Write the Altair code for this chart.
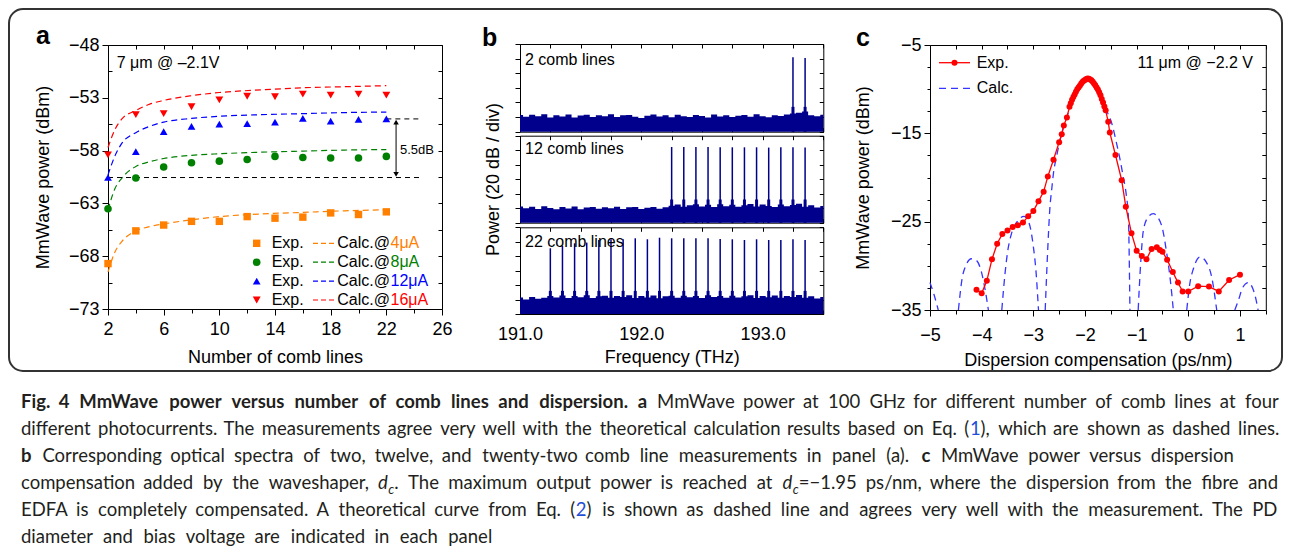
import altair as alt
import pandas as pd

W, H = 1275, 544
FONT = "Liberation Sans"
CAP_FONT = "Lato"
NAVY = "#00008c"

# ---------------- panel a : mmWave power vs number of comb lines ----------------
comb_counts = [2, 4, 6, 8, 10, 12, 14, 16, 18, 20, 22]
exp_4uA = [-68.7, -65.6, -65.05, -64.7, -64.7, -64.25, -64.4, -64.3, -63.9, -64.05, -63.8]
exp_8uA = [-63.5, -60.6, -59.55, -59.15, -59.0, -58.85, -58.55, -58.65, -58.7, -58.7, -58.55]
exp_12uA = [-60.55, -58.1, -56.2, -55.7, -55.5, -55.45, -55.3, -54.95, -55.2, -55.05, -55.0]
exp_16uA = [-58.4, -54.6, -54.5, -53.85, -53.2, -52.85, -52.9, -52.65, -52.75, -52.65, -52.75]

calc_counts = [2, 2.5, 3, 4, 5, 6, 8, 10, 13, 16, 19, 22]
calc_4uA = [-69.5, -67.6, -66.6, -65.6, -65.2, -64.95, -64.55, -64.25, -64.0, -63.85, -63.7, -63.6]
calc_8uA = [-63.6, -61.6, -60.6, -59.5, -59.05, -58.75, -58.45, -58.3, -58.15, -58.05, -57.95, -57.9]
calc_12uA = [-60.3, -58.5, -57.3, -56.3, -55.7, -55.3, -54.95, -54.75, -54.6, -54.5, -54.4, -54.35]
calc_16uA = [-57.7, -56.0, -55.0, -54.2, -53.6, -53.25, -52.8, -52.5, -52.25, -52.05, -51.95, -51.85]
currents = ["4μA", "8μA", "12μA", "16μA"]

ref_start = [2, 22]
ref_level = [-60.55, -55.0]
ref_end = 24.4
arrow_x = 22.7
arrow_top, arrow_bottom = -55.3, -60.25

# ---------------- panel b : optical spectra ----------------
floor_freqs = [round(191.0 + 0.05 * i, 2) for i in range(51)]
floor_2 = [1.15, 1.02, 1.16, 1.06, 1.20, 0.98, 1.12, 1.04, 1.17, 0.97, 1.10, 1.16, 1.01, 1.13, 1.05, 1.19, 1.00,
           1.12, 1.15, 1.03, 0.94, 1.09, 1.18, 1.04, 1.13, 0.99, 1.16, 1.06, 1.01, 1.15, 1.08, 0.98, 1.17, 1.04,
           1.12, 1.00, 1.09, 1.15, 1.03, 1.19, 1.06, 0.99, 1.13, 1.08, 1.18, 1.25, 1.30, 1.38, 1.12, 1.06, 1.16]
floor_12 = [1.12, 1.00, 1.10, 0.95, 1.14, 1.02, 0.93, 1.08, 0.98, 1.11, 0.92, 1.05, 1.09, 0.96, 1.07, 0.99, 1.10,
            0.94, 1.06, 1.08, 0.95, 1.03, 1.09, 0.97, 1.06, 1.17, 1.25, 1.10, 1.21, 1.28, 1.12, 1.23, 1.08, 1.27,
            1.14, 1.24, 1.10, 1.21, 1.29, 1.11, 1.25, 1.16, 1.08, 1.26, 1.13, 1.22, 1.31, 1.10, 1.20, 1.05, 1.16]
floor_22 = [1.14, 1.01, 1.17, 1.06, 1.12, 1.25, 1.14, 1.28, 1.11, 1.24, 1.16, 1.29, 1.10, 1.23, 1.27, 1.13, 1.25,
            1.17, 1.30, 1.11, 1.24, 1.15, 1.28, 1.09, 1.22, 1.26, 1.13, 1.27, 1.16, 1.25, 1.10, 1.29, 1.17, 1.24,
            1.12, 1.27, 1.15, 1.22, 1.30, 1.11, 1.25, 1.16, 1.28, 1.13, 1.24, 1.17, 1.31, 1.12, 1.22, 1.07, 1.18]
lines_2 = [193.25, 193.35]
peaks_2 = [5.1, 5.05]
lines_12 = [192.25, 192.35, 192.45, 192.55, 192.65, 192.75, 192.85, 192.95, 193.05, 193.15, 193.25, 193.35]
peaks_12 = [5.22, 5.22, 5.22, 5.22, 5.2, 5.2, 5.2, 5.2, 5.18, 5.2, 5.2, 5.18]
lines_22 = [191.25, 191.35, 191.45, 191.55, 191.65, 191.75, 191.85, 191.95, 192.05, 192.15, 192.25,
            192.35, 192.45, 192.55, 192.65, 192.75, 192.85, 192.95, 193.05, 193.15, 193.25, 193.35]
peaks_22 = [4.55, 4.71, 4.89, 4.94, 5.12, 5.17, 5.17, 5.24, 5.17, 5.28, 5.24, 5.24, 5.24, 5.24, 5.19, 5.17,
            5.12, 5.17, 5.12, 5.12, 5.17, 5.12]
pedestal = [1.7, 1.6, 1.6]
spectrum_labels = ["2 comb lines", "12 comb lines", "22 comb lines"]

# ---------------- panel c : power vs dispersion compensation ----------------
disp_exp = [-4.1, -4.0, -3.9, -3.8, -3.7, -3.6, -3.5, -3.4, -3.3, -3.2, -3.1, -3.0, -2.9, -2.8, -2.72, -2.61,
            -2.5, -2.45, -2.41, -2.35,
            -2.3, -2.275, -2.25, -2.225, -2.2, -2.175, -2.15, -2.125, -2.1, -2.075, -2.05, -2.025, -2.0,
            -1.975, -1.95, -1.925, -1.9, -1.875, -1.85, -1.825, -1.8, -1.775, -1.75, -1.725, -1.7, -1.675,
            -1.65, -1.625, -1.6,
            -1.55, -1.52, -1.41, -1.29, -1.21, -1.1, -1.0, -0.9, -0.81, -0.71, -0.61, -0.55, -0.5, -0.41,
            -0.3, -0.2, -0.11, 0.0, 0.19, 0.4, 0.59, 0.79, 1.0]
power_exp = [-32.7, -33.1, -31.7, -29.25, -27.5, -26.4, -26.0, -25.6, -25.4, -25.1, -24.4, -23.8, -22.7, -21.6,
             -19.9, -18.0, -16.0, -15.1, -14.1, -13.2,
             -12.0, -11.6, -11.2, -10.9, -10.6, -10.3, -10.0, -9.8, -9.6, -9.4, -9.2, -9.05, -8.95,
             -8.85, -8.8, -8.82, -8.9, -9.0, -9.15, -9.35, -9.55, -9.8, -10.05, -10.35, -10.7, -11.1,
             -11.5, -11.95, -12.4,
             -13.7, -14.9, -17.45, -20.3, -23.3, -26.3, -28.3, -28.9, -29.25, -28.1, -27.9, -28.2, -28.4,
             -29.3, -30.7, -31.9, -32.9, -32.9, -32.3, -32.35, -32.9, -31.6, -31.0]
calc_lobes = [
    [(-5.0, -31.9), (-4.92, -33.3), (-4.84, -35.0)],
    [(-4.45, -35.0), (-4.38, -31.5), (-4.3, -29.9), (-4.2, -29.2), (-4.1, -29.4), (-4.0, -30.8), (-3.93, -32.8),
     (-3.87, -35.0)],
    [(-3.61, -35.0), (-3.55, -31.0), (-3.5, -28.5), (-3.42, -26.3), (-3.3, -24.9), (-3.18, -24.4), (-3.08, -25.2),
     (-3.0, -27.8), (-2.95, -30.5), (-2.9, -35.0)],
    [(-2.77, -35.0), (-2.72, -28.0), (-2.68, -23.5), (-2.645, -21.4), (-2.61, -19.5), (-2.55, -17.6), (-2.45, -15.0),
     (-2.35, -13.1), (-2.23, -11.2), (-2.1, -9.7), (-1.95, -8.75), (-1.8, -9.3), (-1.68, -10.6), (-1.58, -12.4),
     (-1.48, -13.9), (-1.39, -16.1), (-1.32, -18.0), (-1.26, -19.9), (-1.2, -22.0), (-1.16, -24.5), (-1.13, -35.0)],
    [(-0.97, -35.0), (-0.92, -29.5), (-0.87, -26.0), (-0.78, -24.5), (-0.68, -24.1), (-0.58, -24.6), (-0.5, -25.8),
     (-0.42, -28.5), (-0.35, -31.5), (-0.29, -35.0)],
    [(-0.03, -35.0), (0.03, -32.0), (0.1, -30.3), (0.23, -29.0), (0.35, -29.6), (0.45, -31.2), (0.55, -35.0)],
    [(0.9, -35.0), (0.97, -33.9), (1.05, -32.5), (1.16, -31.9), (1.25, -32.6), (1.31, -33.8), (1.35, -35.0)],
]

# ---------------- caption ----------------
caption_lines = [
    [("Fig. 4 MmWave power versus number of comb lines and dispersion. a", "b"),
     (" MmWave power at 100 GHz for different number of comb lines at four", "r")],
    [("different photocurrents. The measurements agree very well with the theoretical calculation results "
      "based on Eq. (", "r"), ("1", "blue"), ("), which are shown as dashed lines.", "r")],
    [("b", "b"), (" Corresponding optical spectra of two, twelve, and twenty-two comb line measurements in "
                  "panel (a). ", "r"), ("c", "b"), (" MmWave power versus dispersion", "r")],
    [("compensation added by the waveshaper, ", "r"), ("d", "i"), ("c", "sub"),
     (". The maximum output power is reached at ", "r"), ("d", "i"), ("c", "sub"),
     ("=−1.95 ps/nm, where the dispersion from the fibre and", "r")],
    [("EDFA is completely compensated. A theoretical curve from Eq. (", "r"), ("2", "blue"),
     (") is shown as dashed line and agrees very well with the measurement. The PD", "r")],
    [("diameter and bias voltage are indicated in each panel", "r")],
]


# ======================================================================
def sc(d, r):
    return alt.Scale(domain=d, range=r, nice=False, zero=False)


AXK = dict(grid=False, domainColor="black", tickColor="black", labelColor="black", labelFont=FONT,
           labelFontSize=18, titleFont=FONT, titleFontSize=18, titleFontWeight="normal", titleColor="black",
           domainWidth=1, tickWidth=1, labelFlush=False, labelOverlap=False)


def ax(**kw):
    d = dict(AXK)
    d.update(kw)
    return alt.Axis(**d)


def guide(xd, xr, yd, yr, xaxis=None, yaxis=None):
    df = pd.DataFrame({"gx": [xd[0]], "gy": [yd[0]]})
    return alt.Chart(df).mark_point(opacity=0).encode(
        x=alt.X("gx:Q", scale=sc(xd, xr), axis=xaxis),
        y=alt.Y("gy:Q", scale=sc(yd, yr), axis=yaxis),
    )


one = pd.DataFrame({"k": [0]})
layers = []

# ---------------- panel a ----------------
AXD, AXR = [2, 26], [100, 434]
AYD, AYR = [-73, -48], [301, 37]
ax_x = lambda f: alt.X(f, scale=sc(AXD, AXR), axis=None)
ax_y = lambda f: alt.Y(f, scale=sc(AYD, AYR), axis=None)

layers.append(guide(AXD, AXR, AYD, AYR,
                    ax(orient="bottom", offset=301 - H, values=[2, 6, 10, 14, 18, 22, 26], tickSize=6,
                       labelPadding=5, title="Number of comb lines", titlePadding=10),
                    ax(orient="left", offset=-100, values=[-73, -68, -63, -58, -53, -48], tickSize=6,
                       labelPadding=3, title="MmWave power (dBm)", titlePadding=16)))
layers.append(guide(AXD, AXR, AYD, AYR,
                    ax(orient="bottom", offset=301 - H, values=[4, 8, 12, 16, 20, 24], tickSize=4,
                       labels=False, domain=False, title=None),
                    ax(orient="right", offset=100 - W, values=[-70.5, -65.5, -60.5, -55.5, -50.5], tickSize=4,
                       labels=False, domain=False, title=None)))
layers.append(guide(AXD, AXR, AYD, AYR,
                    ax(orient="bottom", offset=37 - H, values=list(range(2, 27, 2)), tickSize=4,
                       labels=False, title=None),
                    ax(orient="left", offset=-434, values=[-73 + 2.5 * i for i in range(11)], tickSize=4,
                       labels=False, title=None)))

cur_color = alt.Scale(domain=currents, range=["#ff8000", "#008000", "#0000ff", "#ff0000"])
cur_shape = alt.Scale(domain=currents, range=["square", "circle", "triangle-up", "triangle-down"])
cur_size = alt.Scale(domain=currents, range=[55, 62, 85, 85])

rows = []
for cur, vals in zip(currents, [exp_4uA, exp_8uA, exp_12uA, exp_16uA]):
    for n, v in zip(comb_counts, vals):
        rows.append({"n": n, "p": v, "cur": cur})
df_exp = pd.DataFrame(rows)
rows = []
for cur, vals in zip(currents, [calc_4uA, calc_8uA, calc_12uA, calc_16uA]):
    for n, v in zip(calc_counts, vals):
        rows.append({"n": n, "p": v, "cur": cur})
df_calc = pd.DataFrame(rows)

layers.append(alt.Chart(df_calc).mark_line(strokeDash=[6, 4], strokeWidth=1.2, interpolate="monotone").encode(
    x=ax_x("n:Q"), y=ax_y("p:Q"), color=alt.Color("cur:N", scale=cur_color, legend=None), detail="cur:N"))

df_ref = pd.DataFrame({"x": ref_start, "x2": [ref_end] * len(ref_start), "y": ref_level})
layers.append(alt.Chart(df_ref).mark_rule(color="black", strokeDash=[5, 4], strokeWidth=1).encode(
    x=ax_x("x:Q"), x2="x2:Q", y=ax_y("y:Q")))

layers.append(alt.Chart(df_exp).mark_point(filled=True, opacity=1).encode(
    x=ax_x("n:Q"), y=ax_y("p:Q"),
    color=alt.Color("cur:N", scale=cur_color, legend=None),
    shape=alt.Shape("cur:N", scale=cur_shape, legend=None),
    size=alt.Size("cur:N", scale=cur_size, legend=None)))

df_arrow = pd.DataFrame({"x": [arrow_x], "y1": [arrow_top], "y2": [arrow_bottom]})
layers.append(alt.Chart(df_arrow).mark_rule(color="black", strokeWidth=1).encode(
    x=ax_x("x:Q"), y=ax_y("y1:Q"), y2="y2:Q"))
layers.append(alt.Chart(df_arrow).mark_point(shape="triangle-up", filled=True, color="black", size=30,
                                             opacity=1).encode(x=ax_x("x:Q"), y=ax_y("y1:Q")))
layers.append(alt.Chart(df_arrow).mark_point(shape="triangle-down", filled=True, color="black", size=30,
                                             opacity=1).encode(x=ax_x("x:Q"), y=ax_y("y2:Q")))
layers.append(alt.Chart(one).mark_text(align="left", baseline="middle", font=FONT, fontSize=13,
                                       color="black").encode(x=alt.value(392), y=alt.value(141.7),
                                                             text=alt.value("5.5dB")))

# legend of panel a
df_leg = pd.DataFrame({"row": [0, 1, 2, 3], "cur": currents})
leg_y = alt.Y("row:Q", scale=sc([0, 3], [235.3, 292]), axis=None)
layers.append(alt.Chart(df_leg).mark_point(filled=True, opacity=1).encode(
    x=alt.value(248.7), y=leg_y,
    color=alt.Color("cur:N", scale=cur_color, legend=None),
    shape=alt.Shape("cur:N", scale=cur_shape, legend=None),
    size=alt.Size("cur:N", scale=cur_size, legend=None)))
layers.append(alt.Chart(df_leg).mark_text(align="left", baseline="middle", font=FONT, fontSize=16,
                                          color="black").encode(x=alt.value(263.7), y=leg_y,
                                                                text=alt.value("Exp.")))
layers.append(alt.Chart(df_leg).mark_rule(strokeDash=[5, 3], strokeWidth=1.2).encode(
    x=alt.value(305), x2=alt.value(327), y=leg_y, color=alt.Color("cur:N", scale=cur_color, legend=None)))
layers.append(alt.Chart(df_leg).mark_text(align="right", baseline="middle", font=FONT, fontSize=16,
                                          color="black").encode(x=alt.value(382), y=leg_y,
                                                                text=alt.value("Calc.@")))
layers.append(alt.Chart(df_leg).mark_text(align="left", baseline="middle", font=FONT, fontSize=16).encode(
    x=alt.value(382.5), y=leg_y, text="cur:N", color=alt.Color("cur:N", scale=cur_color, legend=None)))
layers.append(alt.Chart(one).mark_text(align="left", baseline="middle", font=FONT, fontSize=16,
                                       color="black").encode(x=alt.value(108.7), y=alt.value(54.7),
                                                             text=alt.value("7 μm @ –2.1V")))

# ---------------- panel b ----------------
BXD, BXR = [191.0, 193.5], [512, 815.3]
BYD = [0, 6]
sub_ranges = [[123.7, 36], [214.7, 127.7], [306, 219.3]]
label_y = [52, 141, 233.7]
quarters = [191.0 + 0.25 * i for i in range(11)]
spectra = [(floor_2, lines_2, peaks_2), (floor_12, lines_12, peaks_12), (floor_22, lines_22, peaks_22)]

# common y-title of panel b
layers.append(guide(BXD, BXR, [0, 1], [306, 36], None,
                    ax(orient="left", offset=-512, values=[0.5], ticks=False, domain=False, labels=False,
                       title="Power (20 dB / div)", titlePadding=18)))

for k, ((floor, lines, peaks), yr) in enumerate(zip(spectra, sub_ranges)):
    bx = lambda f: alt.X(f, scale=sc(BXD, BXR), axis=None)
    by = lambda f: alt.Y(f, scale=sc(BYD, yr), axis=None)
    df_f = pd.DataFrame({"f": floor_freqs, "p": floor})
    layers.append(alt.Chart(df_f).mark_area(color=NAVY, opacity=1, interpolate="step").encode(
        x=bx("f:Q"), y=by("p:Q")))
    df_l = pd.DataFrame({"f": lines, "h": peaks, "ped": [pedestal[k]] * len(lines)})
    layers.append(alt.Chart(df_l).mark_rule(color=NAVY, strokeWidth=3).encode(
        x=bx("f:Q"), y=by("ped:Q"), y2=alt.datum(0)))
    layers.append(alt.Chart(df_l).mark_rule(color=NAVY, strokeWidth=1.5).encode(
        x=bx("f:Q"), y=by("h:Q"), y2=alt.datum(0)))
    layers.append(alt.Chart(one).mark_text(align="left", baseline="middle", font=FONT, fontSize=16,
                                           color="black").encode(x=alt.value(517), y=alt.value(label_y[k]),
                                                                 text=alt.value(spectrum_labels[k])))
    layers.append(guide(BXD, BXR, BYD, yr,
                        ax(orient="bottom", offset=yr[1] - H, values=quarters, tickSize=4, labels=False,
                           title=None),
                        ax(orient="left", offset=-512, values=[0, 1, 2, 3, 4, 5, 6], tickSize=5, labels=False,
                           title=None)))
    layers.append(guide(BXD, BXR, BYD, yr,
                        ax(orient="top", offset=-yr[0], values=quarters, tickSize=4, labels=False, title=None),
                        ax(orient="left", offset=-815.3, values=[0, 1, 2, 3, 4, 5, 6], tickSize=4,
                           labels=False, title=None)))
    if k == 2:
        layers.append(guide(BXD, BXR, BYD, yr,
                            ax(orient="bottom", offset=yr[0] - H, values=[191.0, 192.0, 193.0], format=".1f",
                               ticks=False, domain=False, labelPadding=11, title="Frequency (THz)",
                               titlePadding=5),
                            None))

# ---------------- panel c ----------------
CXD, CXR = [-5, 1.5], [922, 1257.8]
CYD, CYR = [-35, -5], [302, 37]
cx = lambda f: alt.X(f, scale=sc(CXD, CXR), axis=None)
cy = lambda f: alt.Y(f, scale=sc(CYD, CYR), axis=None)

layers.append(guide(CXD, CXR, CYD, CYR,
                    ax(orient="bottom", offset=302 - H, values=[-5, -4, -3, -2, -1, 0, 1], tickSize=6,
                       labelPadding=10, title="Dispersion compensation (ps/nm)", titlePadding=7),
                    ax(orient="left", offset=-922, values=[-35, -25, -15, -5], tickSize=6, labelPadding=3,
                       title="MmWave power (dBm)", titlePadding=18)))
layers.append(guide(CXD, CXR, CYD, CYR,
                    ax(orient="bottom", offset=302 - H, values=[-4.5, -3.5, -2.5, -1.5, -0.5, 0.5, 1.5],
                       tickSize=4, labels=False, domain=False, title=None),
                    ax(orient="left", offset=-922,
                       values=[-32.5, -30, -27.5, -22.5, -20, -17.5, -12.5, -10, -7.5], tickSize=3,
                       labels=False, domain=False, title=None)))
layers.append(guide(CXD, CXR, CYD, CYR,
                    ax(orient="bottom", offset=37 - H, values=[-5 + 0.5 * i for i in range(14)], tickSize=4,
                       labels=False, title=None),
                    ax(orient="left", offset=-1257.8, values=[-35 + 2.5 * i for i in range(13)], tickSize=4,
                       labels=False, title=None)))

rows = []
for s, lobe in enumerate(calc_lobes):
    for d, p in lobe:
        rows.append({"d": d, "p": p, "seg": s})
df_cc = pd.DataFrame(rows)
layers.append(alt.Chart(df_cc).mark_line(color="#3535ff", strokeDash=[7, 5], strokeWidth=1.3,
                                         interpolate="monotone").encode(x=cx("d:Q"), y=cy("p:Q"),
                                                                         detail="seg:N"))
df_ce = pd.DataFrame({"d": disp_exp, "p": power_exp})
layers.append(alt.Chart(df_ce).mark_line(color="#ff0000", strokeWidth=1.3).encode(x=cx("d:Q"), y=cy("p:Q")))
layers.append(alt.Chart(df_ce).mark_circle(color="#ff0000", size=36, opacity=1).encode(x=cx("d:Q"),
                                                                                       y=cy("p:Q")))

layers.append(alt.Chart(one).mark_rule(color="#ff0000", strokeWidth=1.3).encode(
    x=alt.value(931), x2=alt.value(962), y=alt.value(54.7)))
layers.append(alt.Chart(one).mark_circle(color="#ff0000", size=36, opacity=1).encode(
    x=alt.value(946.5), y=alt.value(54.7)))
layers.append(alt.Chart(one).mark_rule(color="#3535ff", strokeWidth=1.3, strokeDash=[7, 5]).encode(
    x=alt.value(931), x2=alt.value(962), y=alt.value(80.3)))
layers.append(alt.Chart(one).mark_text(align="left", baseline="middle", font=FONT, fontSize=16,
                                       color="black").encode(x=alt.value(968.7), y=alt.value(54.7),
                                                             text=alt.value("Exp.")))
layers.append(alt.Chart(one).mark_text(align="left", baseline="middle", font=FONT, fontSize=16,
                                       color="black").encode(x=alt.value(968.7), y=alt.value(80.3),
                                                             text=alt.value("Calc.")))
layers.append(alt.Chart(one).mark_text(align="right", baseline="middle", font=FONT, fontSize=16,
                                       color="black").encode(x=alt.value(1245), y=alt.value(54.7),
                                                             text=alt.value("11 μm @ −2.2 V")))

# ---------------- panel letters and frame ----------------
for letter, lx, ly in [("a", 28, 36), ("b", 474, 38), ("c", 848, 38)]:
    layers.append(alt.Chart(one).mark_text(align="left", baseline="alphabetic", font=FONT, fontSize=25,
                                           fontWeight="bold", color="black").encode(
        x=alt.value(lx), y=alt.value(ly), text=alt.value(letter)))

layers.append(alt.Chart(one).mark_rect(fillOpacity=0, stroke="#333333", strokeWidth=2, cornerRadius=14).encode(
    x=alt.value(1), x2=alt.value(1274), y=alt.value(1), y2=alt.value(363)))

# ---------------- caption (word-justified) ----------------
CAP = 18.5
WF = 0.99
LW = {'a': .51, 'b': .56, 'c': .46, 'd': .56, 'e': .53, 'f': .32, 'g': .50, 'h': .56, 'i': .23, 'j': .23,
      'k': .50, 'l': .23, 'm': .82, 'n': .56, 'o': .56, 'p': .56, 'q': .56, 'r': .36, 's': .42, 't': .35,
      'u': .56, 'v': .49, 'w': .74, 'x': .49, 'y': .49, 'z': .45, 'A': .66, 'B': .62, 'C': .64, 'D': .72,
      'E': .55, 'F': .53, 'G': .70, 'H': .73, 'I': .27, 'M': .86, 'P': .58, 'T': .56, 'W': .97,
      '.': .21, ',': .21, '(': .31, ')': .31, '-': .36, '=': .58, '−': .58, '/': .38}
STY = {"r": dict(fontWeight="normal", fontStyle="normal", color="#231f20", size=CAP, dy=0),
       "b": dict(fontWeight="bold", fontStyle="normal", color="#231f20", size=CAP, dy=0),
       "blue": dict(fontWeight="normal", fontStyle="normal", color="#1f4fd6", size=CAP, dy=0),
       "i": dict(fontWeight="normal", fontStyle="italic", color="#231f20", size=CAP, dy=0),
       "sub": dict(fontWeight="normal", fontStyle="italic", color="#231f20", size=13, dy=5)}


def tok_w(t, s):
    f = 1.05 if s == "b" else 1.0
    return sum(LW.get(ch, 0.58) for ch in t) * STY[s]["size"] * f * WF


def split_words(segs):
    words, cur = [], []
    for text, style in segs:
        for i, p in enumerate(text.split(" ")):
            if i > 0 and cur:
                words.append(cur)
                cur = []
            if p:
                cur.append((p, style))
    if cur:
        words.append(cur)
    return words


CAP_X0 = 13
cap_ends = [1270, 1270, 1224, 1270, 1268, 484]
cap_base = [400, 427, 454, 481, 508, 535]
cap_rows = []
for segs, xe, yb in zip(caption_lines, cap_ends, cap_base):
    words = split_words(segs)
    widths = [sum(tok_w(t, s) for t, s in w) for w in words]
    gap = (xe - CAP_X0 - sum(widths)) / (len(words) - 1)
    x = CAP_X0
    for w, wd in zip(words, widths):
        xx = x
        for t, s in w:
            cap_rows.append({"t": t, "s": s, "x": xx, "y": yb + STY[s]["dy"]})
            xx += tok_w(t, s)
        x += wd + gap
df_cap = pd.DataFrame(cap_rows)
for s, st in STY.items():
    sub = df_cap[df_cap["s"] == s]
    if len(sub) == 0:
        continue
    layers.append(alt.Chart(sub).mark_text(align="left", baseline="alphabetic", font=CAP_FONT,
                                           fontSize=st["size"], fontWeight=st["fontWeight"],
                                           fontStyle=st["fontStyle"], color=st["color"]).encode(
        x=alt.X("x:Q", scale=sc([0, W], [0, W]), axis=None),
        y=alt.Y("y:Q", scale=sc([0, H], [0, H]), axis=None),
        text="t:N"))

chart = alt.layer(*layers).resolve_scale(
    x="independent", y="independent", color="independent", shape="independent", size="independent"
).properties(width=W, height=H, padding=0).configure_view(stroke=None)

chart.save("out.html", embed_options={"renderer": "svg", "actions": False})
